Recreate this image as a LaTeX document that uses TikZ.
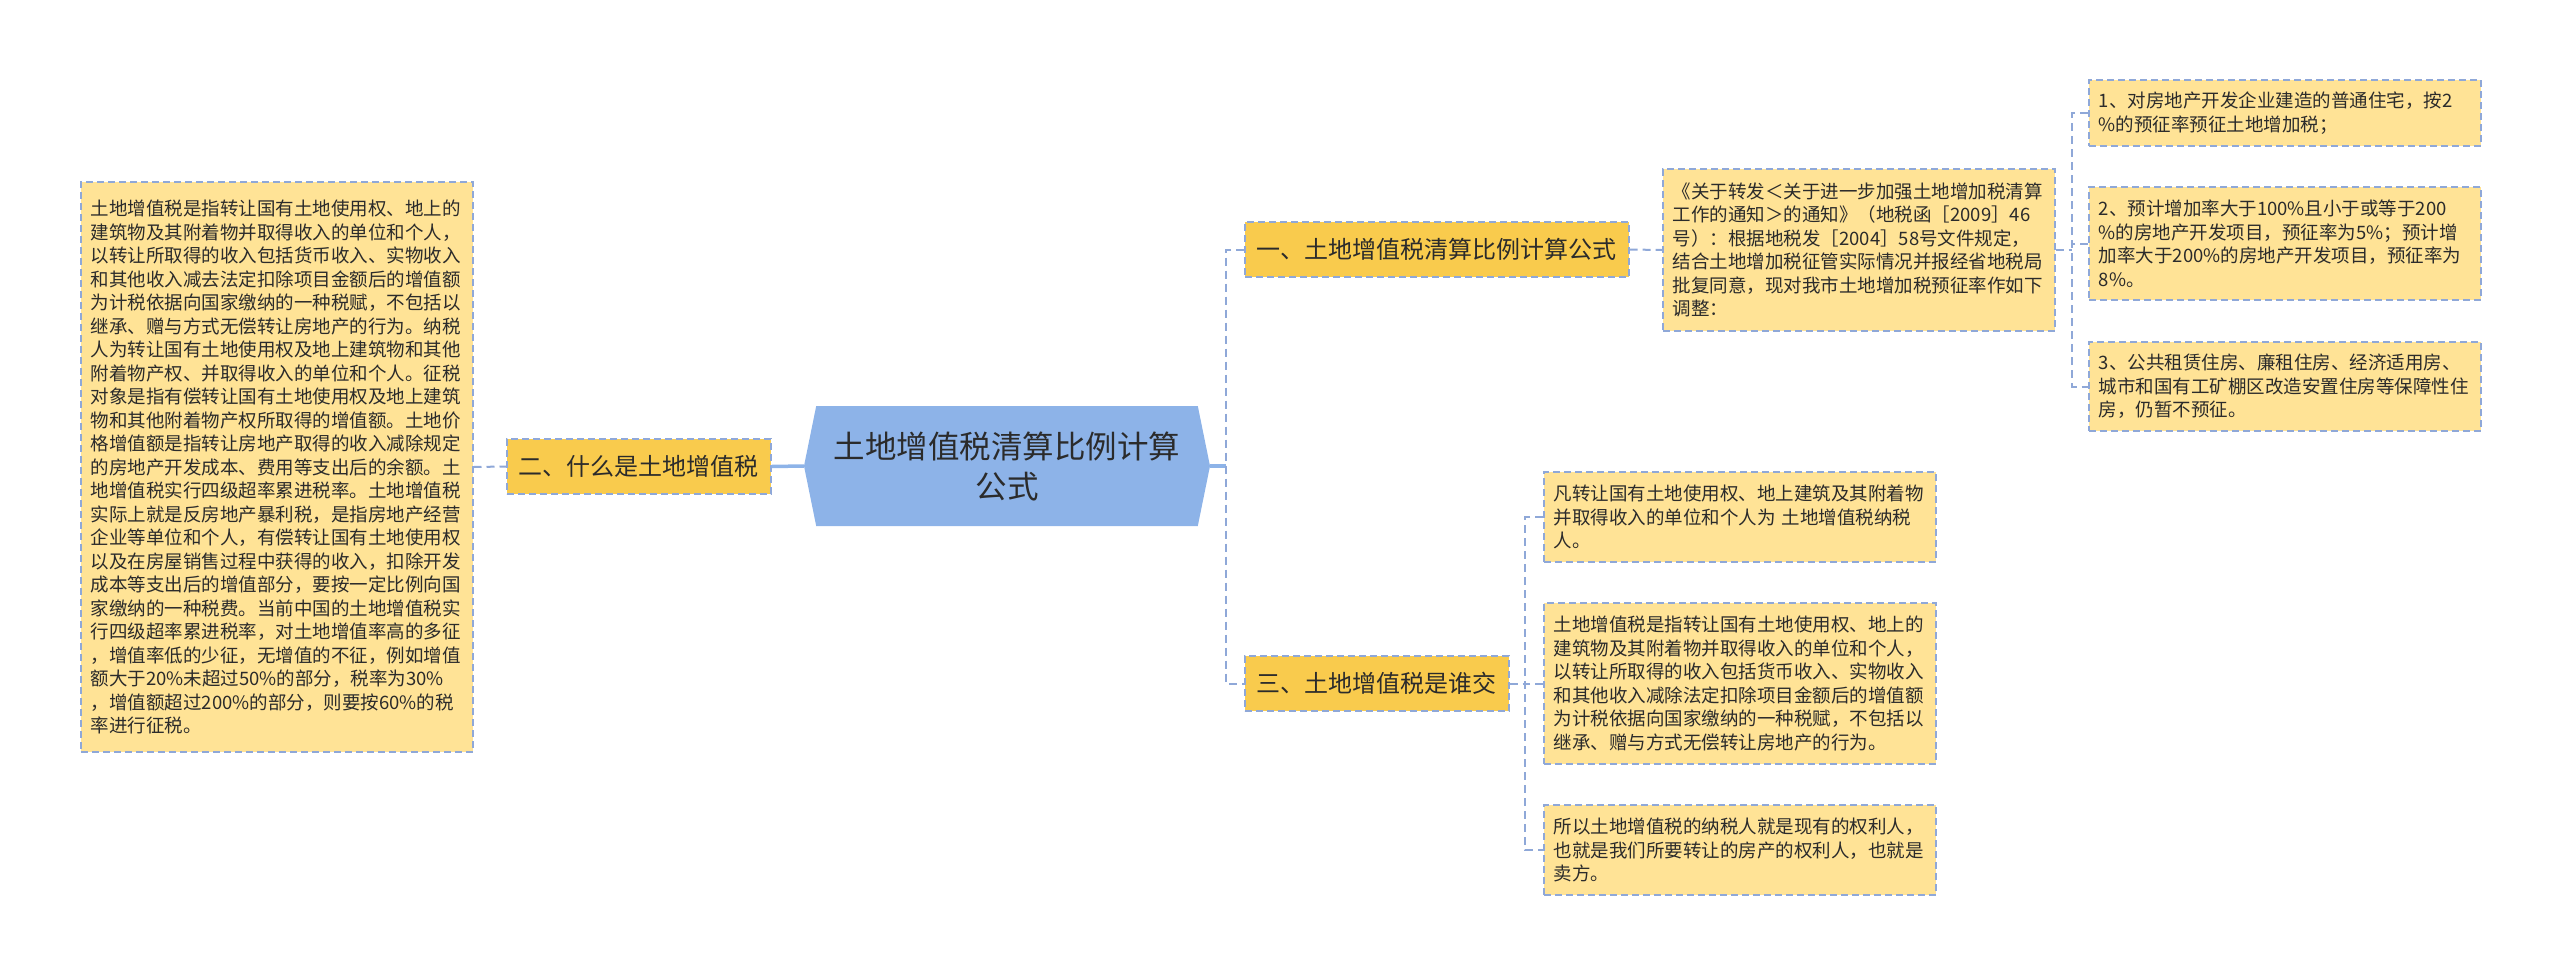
\documentclass[tikz,border=0pt]{standalone}
\usepackage{fontspec}
\setmainfont{Noto Sans CJK SC}
\usepackage{tikz}
\usetikzlibrary{shapes.symbols}
\definecolor{leafyellow}{HTML}{FFE396}
\definecolor{topicyellow}{HTML}{F9CB4D}
\definecolor{hubblue}{HTML}{8DB3E8}
\definecolor{linkblue}{HTML}{8FA8D8}
\definecolor{inkgray}{HTML}{2B2B2B}

\begin{document}
\begin{tikzpicture}[x=1pt,y=-1pt,
  leaf/.style={draw=linkblue,dash pattern=on 7pt off 4pt,line width=1.5pt,fill=leafyellow,text=inkgray,
    inner xsep=10pt,inner ysep=0pt,text width=372pt,align=left,anchor=west,font=\fontsize{18.5}{23.5}\selectfont},
  topic/.style={draw=linkblue,dash pattern=on 7pt off 4pt,line width=1.5pt,fill=topicyellow,text=inkgray,
    inner xsep=12pt,inner ysep=0pt,minimum height=55pt,anchor=west,font=\fontsize{24}{30}\selectfont},
  hubshape/.style={signal,signal to=west and east,signal pointer angle=157,fill=hubblue,text=inkgray,
    minimum width=406pt,minimum height=120pt,align=center,font=\fontsize{31.5}{40}\selectfont},
  dashlink/.style={draw=linkblue,line width=2pt,dash pattern=on 8pt off 5pt},
  solidlink/.style={draw=hubblue,line width=3.5pt}]
\useasboundingbox (0,0) rectangle (2560,975);
% centre:
\node[hubshape] (hub) at (1007,466) {土地增值税清算比例计算\\公式};
% left branch:
\node[topic] (what) at (506,466.5) {二、什么是土地增值税};
\node[leaf,minimum height=570pt] (whatText) at (80,467) {土地增值税是指转让国有土地使用权、地上的\\
建筑物及其附着物并取得收入的单位和个人，\\
以转让所取得的收入包括货币收入、实物收入\\
和其他收入减去法定扣除项目金额后的增值额\\
为计税依据向国家缴纳的一种税赋，不包括以\\
继承、赠与方式无偿转让房地产的行为。纳税\\
人为转让国有土地使用权及地上建筑物和其他\\
附着物产权、并取得收入的单位和个人。征税\\
对象是指有偿转让国有土地使用权及地上建筑\\
物和其他附着物产权所取得的增值额。土地价\\
格增值额是指转让房地产取得的收入减除规定\\
的房地产开发成本、费用等支出后的余额。土\\
地增值税实行四级超率累进税率。土地增值税\\
实际上就是反房地产暴利税，是指房地产经营\\
企业等单位和个人，有偿转让国有土地使用权\\
以及在房屋销售过程中获得的收入，扣除开发\\
成本等支出后的增值部分，要按一定比例向国\\
家缴纳的一种税费。当前中国的土地增值税实\\
行四级超率累进税率，对土地增值率高的多征\\
，增值率低的少征，无增值的不征，例如增值\\
额大于20\%未超过50\%的部分，税率为30\%\\
，增值额超过200\%的部分，则要按60\%的税\\
率进行征税。};
% right branch, upper:
\node[topic] (formula) at (1244,249.5) {一、土地增值税清算比例计算公式};
\node[leaf,minimum height=162pt] (notice) at (1662,250) {《关于转发＜关于进一步加强土地增加税清算\\
工作的通知＞的通知》（地税函［2009］46\\
号）：根据地税发［2004］58号文件规定，\\
结合土地增加税征管实际情况并报经省地税局\\
批复同意，现对我市土地增加税预征率作如下\\
调整：};
\node[leaf,minimum height=66pt] (rateOne) at (2088,113) {1、对房地产开发企业建造的普通住宅，按2\\
\%的预征率预征土地增加税；};
\node[leaf,minimum height=113pt] (rateTwo) at (2088,243.5) {2、预计增加率大于100\%且小于或等于200\\
\%的房地产开发项目，预征率为5\%；预计增\\
加率大于200\%的房地产开发项目，预征率为\\
8\%。};
\node[leaf,minimum height=89pt] (rateThree) at (2088,386.5) {3、公共租赁住房、廉租住房、经济适用房、\\
城市和国有工矿棚区改造安置住房等保障性住\\
房，仍暂不预征。};
% right branch, lower:
\node[topic] (payer) at (1244,683.5) {三、土地增值税是谁交};
\node[leaf,minimum height=90pt] (payerA) at (1543,517) {凡转让国有土地使用权、地上建筑及其附着物\\
并取得收入的单位和个人为 土地增值税纳税\\
人。};
\node[leaf,minimum height=161pt] (payerB) at (1543,683.5) {土地增值税是指转让国有土地使用权、地上的\\
建筑物及其附着物并取得收入的单位和个人，\\
以转让所取得的收入包括货币收入、实物收入\\
和其他收入减除法定扣除项目金额后的增值额\\
为计税依据向国家缴纳的一种税赋，不包括以\\
继承、赠与方式无偿转让房地产的行为。};
\node[leaf,minimum height=90pt] (payerC) at (1543,850) {所以土地增值税的纳税人就是现有的权利人，\\
也就是我们所要转让的房产的权利人，也就是\\
卖方。};
% forks:
\coordinate (forkHub) at (1226,466);
\coordinate (forkNotice) at (2072,250);
\coordinate (forkPayer) at (1525,683.5);
% connectors:
\draw[dashlink] (whatText.east) -- (what.west);
\draw[solidlink] (what.east) -- (hub.west);
\draw[solidlink] (hub.east) -- (forkHub);
\draw[dashlink] (formula.west) -| (forkHub) |- (payer.west);
\draw[dashlink] (formula.east) -- (notice.west);
\draw[dashlink] (notice.east) -- (forkNotice);
\draw[dashlink] (rateOne.west) -| (forkNotice) |- (rateThree.west);
\draw[dashlink] (rateTwo.west) -- (rateTwo.west -| forkNotice);
\draw[dashlink] (payer.east) -- (forkPayer);
\draw[dashlink] (payerA.west) -| (forkPayer) |- (payerC.west);
\draw[dashlink] (payerB.west) -- (payerB.west -| forkPayer);
\end{tikzpicture}
\end{document}
